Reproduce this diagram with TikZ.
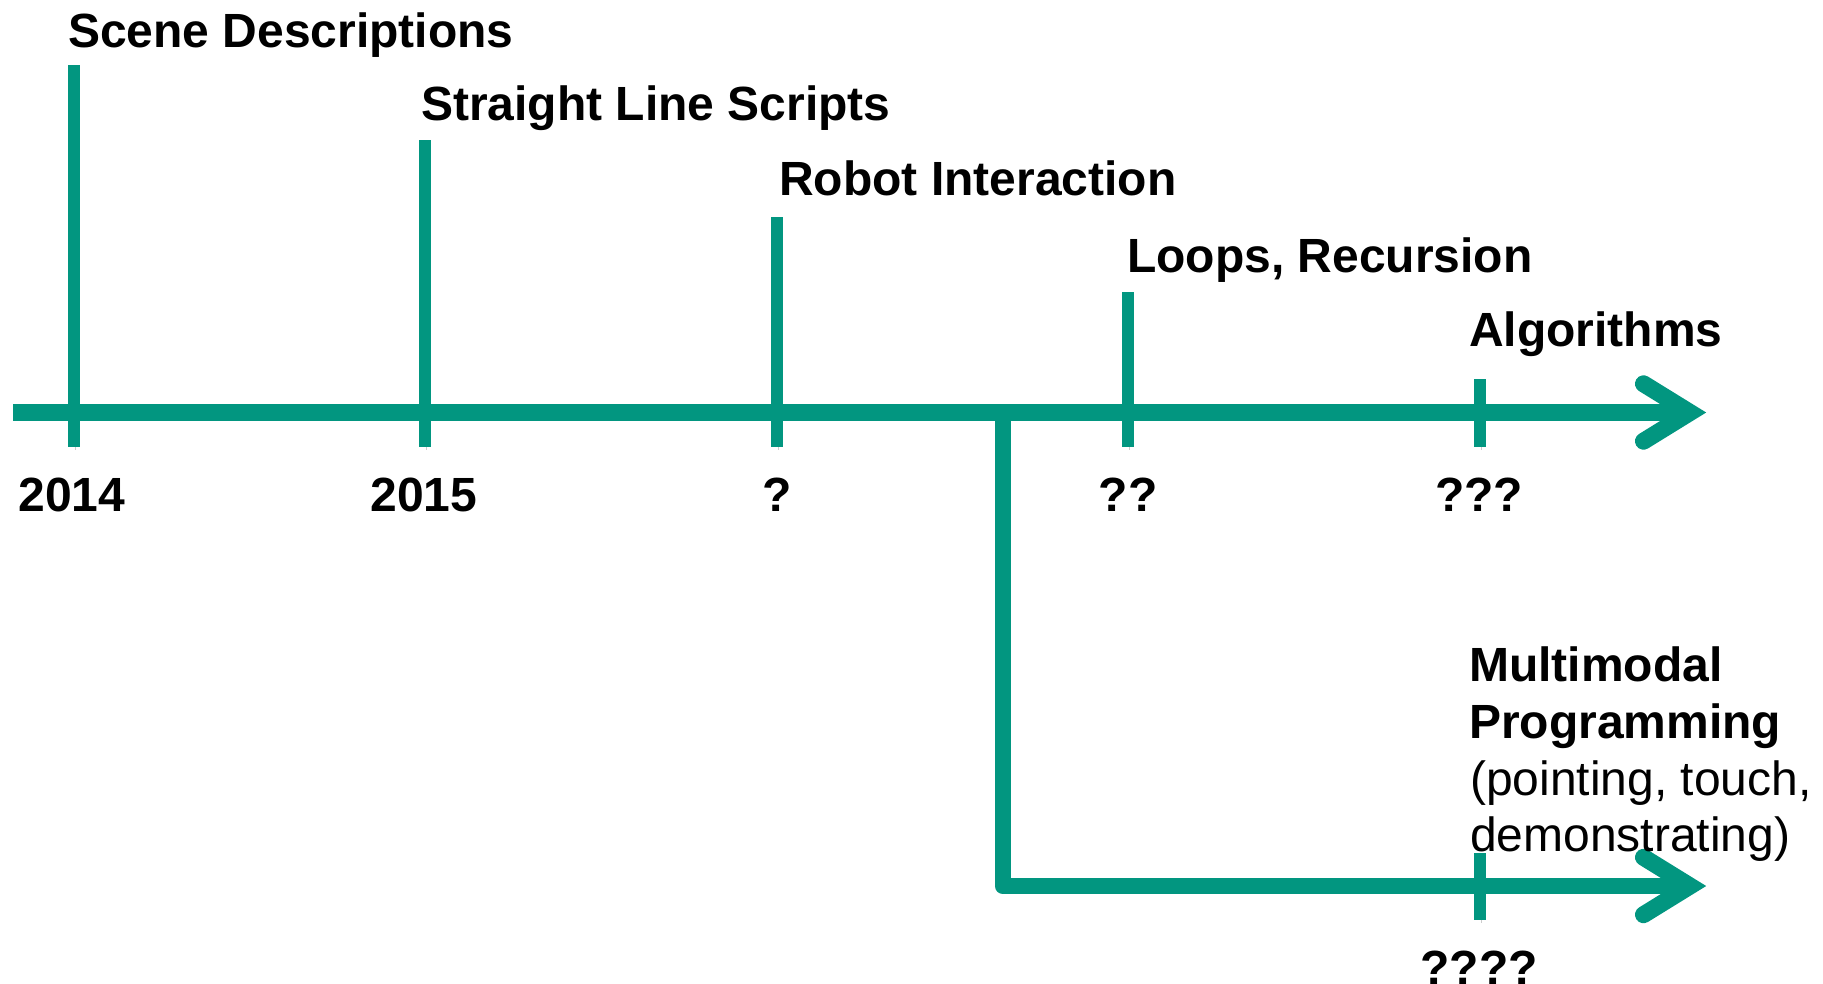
\documentclass[tikz,border=0pt]{standalone}
\usepackage{fontspec}
\setmainfont{Liberation Sans}
\usetikzlibrary{calc}
\definecolor{lineteal}{RGB}{2,150,128}

\tikzset{
  dropshade/.style={preaction={draw=black, opacity=.2,
      transform canvas={shift={(1bp,-3bp)}}}},
  axisline/.style={draw=lineteal, line width=16.5bp, dropshade},
  tickmark/.style={draw=lineteal, line width=12bp, dropshade},
  chevron/.style={draw=lineteal, line width=17bp, line cap=round,
      line join=miter, dropshade},
  labeltext/.style={font=\fontsize{48bp}{56.7bp}\selectfont\bfseries,
      inner sep=0pt, anchor=base west},
  yeartext/.style={font=\fontsize{48bp}{56.7bp}\selectfont\bfseries,
      inner sep=0pt, anchor=base},
  notetext/.style={font=\fontsize{48bp}{56.7bp}\selectfont,
      inner sep=0pt, anchor=base west}
}

\begin{document}
\begin{tikzpicture}[x=1bp, y=-1bp]
\useasboundingbox (0,0) rectangle (1823,983);

% main time axis and the branch below it
\coordinate (a0) at (13,412.5);
\coordinate (a1) at (1690,412.5);
\coordinate (br) at (1003,412.5);
\coordinate (bc) at (1003,886);
\coordinate (b1) at (1690,886);

\draw[axisline, line join=round] (br) -- (bc) -- (b1);
\draw[axisline] (a0) -- (a1);

% open arrow heads
\draw[chevron] ($(a1)+(-46.5,-28.7)$) -- (a1) -- ($(a1)+(-46.5,28.7)$);
\draw[chevron] ($(b1)+(-46.5,-28.7)$) -- (b1) -- ($(b1)+(-46.5,28.7)$);

% milestone ticks
\foreach \i/\x/\top in {1/74/65, 2/425/140, 3/777/217, 4/1128/292, 5/1480/379}{
  \coordinate (t\i u) at (\x,\top);
  \coordinate (t\i d) at (\x,447);
  \draw[tickmark] (t\i u) -- (t\i d);
}
\coordinate (t6u) at (1480,853);
\coordinate (t6d) at (1480,920);
\draw[tickmark] (t6u) -- (t6d);

% milestone titles
\node[labeltext] (l1) at (68,47)     {Scene Descriptions};
\node[labeltext] (l2) at (421,120)   {Straight Line Scripts};
\node[labeltext] (l3) at (779,195)   {Robot Interaction};
\node[labeltext] (l4) at (1127,272)  {Loops, Recursion};
\node[labeltext] (l5) at (1469,346)  {Algorithms};

% dates
\node[yeartext] (y1) at (72,511)   {2014};
\node[yeartext] (y2) at (424,511)  {2015};
\node[yeartext] (y3) at (777,511)  {?};
\node[yeartext] (y4) at (1128,511) {??};
\node[yeartext] (y5) at (1479,511) {???};
\node[yeartext] (y6) at (1479,984) {????};

% branch milestone
\node[labeltext] (m1) at (1469,681.7) {Multimodal};
\node[labeltext] (m2) at (1469,738.4) {Programming};
\node[notetext]  (m3) at (1470,795.1) {(pointing, touch,};
\node[notetext]  (m4) at (1470,851.8) {demonstrating)};
\end{tikzpicture}
\end{document}
